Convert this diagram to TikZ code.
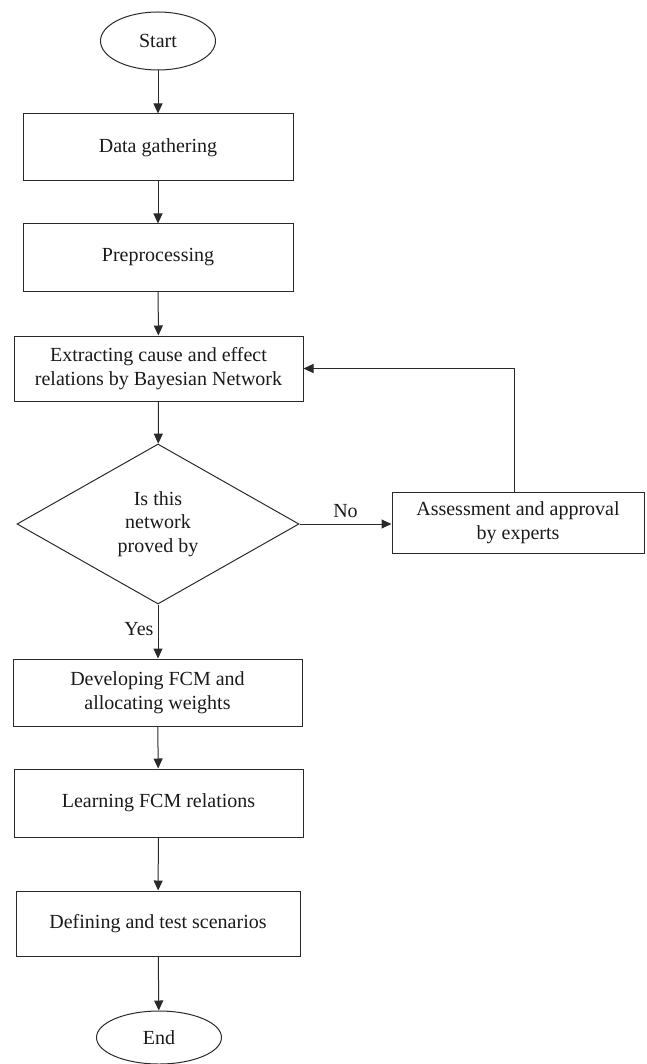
\documentclass[tikz,border=0pt]{standalone}
\usepackage{fontspec}
\setmainfont{Liberation Serif}
\usepackage{tikz}
\usetikzlibrary{positioning, arrows.meta, shapes.geometric}
\definecolor{lineGray}{HTML}{2A2A2A}
\definecolor{textDark}{HTML}{1A1A1A}

\begin{document}
\begin{tikzpicture}[x=1pt, y=-1pt, line width=1pt,
    every node/.style={font=\rmfamily\fontsize{20}{23.5}\selectfont, color=textDark},
    box/.style={draw=lineGray, rectangle, align=center, inner sep=0pt},
    term/.style={draw=lineGray, ellipse, inner sep=0pt},
    flow/.style={draw=lineGray, -{Triangle[length=10pt, width=9pt]}}]
        \useasboundingbox (0,0) rectangle (646,1064);
        % Start and first steps
        \node[term, minimum width=115pt, minimum height=58pt] (start) at (158,41) {Start};
        \node[box, minimum width=270pt, minimum height=67pt] (gather) at (158,147.5) {Data gathering};
        \node[box, minimum width=270pt, minimum height=67pt] (prep) at (158,257.5) {Preprocessing};
        \node[box, minimum width=289pt, minimum height=65pt] (bayes) at (158.5,368.5)
          {Extracting cause and effect\\relations by Bayesian Network};
        % Decision and expert loop
        \node[draw=lineGray, diamond, aspect=1.76, inner sep=0pt, align=center,
          minimum width=282pt, minimum height=160pt] (check) at (158,524) {Is this\\network\\proved by};
        \node[box, minimum width=252pt, minimum height=61pt] (expert) at (518,522.5)
          {Assessment and approval\\by experts};
        % Remaining steps and End
        \node[box, minimum width=289pt, minimum height=67pt] (fcm) at (157.5,692.5)
          {Developing FCM and\\allocating weights};
        \node[box, minimum width=289pt, minimum height=68pt] (learn) at (158.5,803) {Learning FCM relations};
        \node[box, minimum width=284pt, minimum height=65pt] (scen) at (158,923.5) {Defining and test scenarios};
        \node[term, minimum width=125pt, minimum height=53pt] (stop) at (159,1037.5) {End};
        % Connectors
        \draw[flow] (start) -- (gather);
        \draw[flow] (gather) -- (prep);
        \draw[flow] (prep) -- (bayes);
        \draw[flow] (bayes) -- (check);
        \draw[flow] (check.east) -- node[above=5pt, inner sep=1pt] {No} (check.east -| expert.west);
        \draw[flow] ([xshift=-4pt]expert.north) |- (bayes.east);
        \draw[flow] (check.south) -- node[left=3pt, pos=0.45, inner sep=1pt] {Yes} (fcm.north -| check.south);
        \draw[flow] (fcm) -- (learn);
        \draw[flow] (learn) -- (scen);
        \draw[flow] (scen) -- (stop);
      \end{tikzpicture}
\end{document}
